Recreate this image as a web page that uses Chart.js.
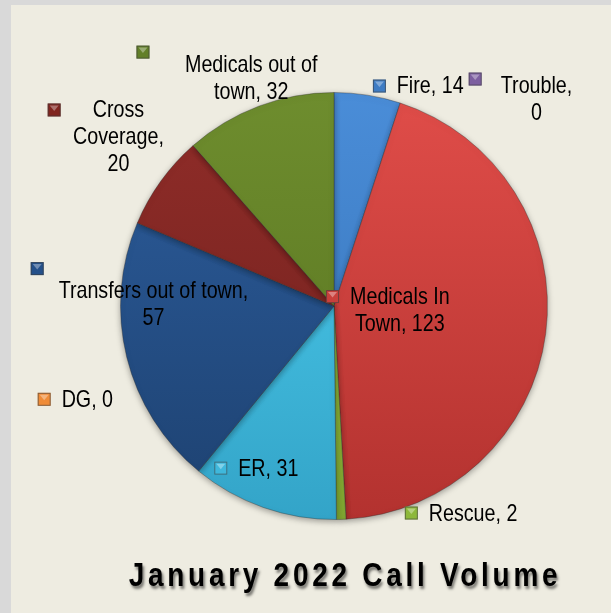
<!DOCTYPE html>
<html>
<head>
<meta charset="utf-8">
<script src="https://cdn.jsdelivr.net/npm/chart.js@4/dist/chart.umd.min.js"></script>
<style>
  html, body { margin: 0; padding: 0; background: #d9d9d9; width: 611px; height: 613px; overflow: hidden; }
  #panel { position: absolute; left: 11px; top: 5px; width: 600px; height: 608px; background: #eeece1; }
  #c { position: absolute; left: 0; top: 0; }
  #title {
    position: absolute; left: 45px; width: 600px; top: 555px; line-height: 39px;
    text-align: center; white-space: nowrap;
    font: bold 34px 'Liberation Sans', Arial, sans-serif; letter-spacing: 4.6px; color: #000;
    text-shadow: 2px 3px 3px rgba(0,0,0,0.5);
    transform: scaleX(0.82); transform-origin: center;
  }
</style>
</head>
<body>
<div id="panel"></div>
<canvas id="c" width="611" height="613"></canvas>
<div id="title">January 2022 Call Volume</div>
<script>
// dati
const categories = ['Fire', 'Trouble', 'Medicals In Town', 'Rescue', 'ER', 'DG',
    'Transfers out of town', 'Cross Coverage', 'Medicals out of town'];
const callCounts = [14, 0, 123, 2, 31, 0, 57, 20, 32];

// colori (chiaro in alto, scuro in basso)
const topColors = ['#4a8dd8', '#8d70b0', '#e04d49', '#9cc744', '#4fd0f1', '#f9a050', '#2d5e9e', '#912d29', '#6e8d2e'];
const bottomColors = ['#3470b4', '#6e5290', '#b3322f', '#7fa531', '#33a4c8', '#e0822f', '#1d4170', '#6d1f1c', '#57721f'];
const keyColors = ['#3e7cc4', '#7d5fa0', '#c8403c', '#8db83a', '#3fb8dc', '#ef8c38', '#24508a', '#80251f', '#627f28'];

// posizione etichette rispetto al centro della torta (px per raggio 214)
const labelLayout = [
    { key: [39, -227], text: [63, -220], align: 'left', wrap: 300 },
    { key: [135, -234], text: [203, -220], align: 'center', wrap: 80 },
    { key: [-8, -16], text: [66, -9], align: 'center', wrap: 110 },
    { key: [71, 201], text: [95, 209], align: 'left', wrap: 300 },
    { key: [-120, 156], text: [-96, 164], align: 'left', wrap: 300 },
    { key: [-297, 87], text: [-273, 95], align: 'left', wrap: 300 },
    { key: [-304, -44], text: [-181, -15], align: 'center', wrap: 200 },
    { key: [-287, -203], text: [-216, -196], align: 'center', wrap: 95 },
    { key: [-198, -261], text: [-83, -241], align: 'center', wrap: 140 }
];

function sliceGradient(ctx) {
    const area = ctx.chart.chartArea;
    const i = ctx.dataIndex;
    if (!area) return keyColors[i];
    const g = ctx.chart.ctx.createLinearGradient(0, area.top, 0, area.bottom);
    g.addColorStop(0, topColors[i]);
    g.addColorStop(1, bottomColors[i]);
    return g;
}

// font stretto se disponibile
let narrowScale = 1;
let labelFamily = "'Liberation Sans Narrow', 'Arial Narrow'";
(function checkNarrow() {
    const t = document.createElement('canvas').getContext('2d');
    t.font = "24px 'Liberation Sans Narrow', monospace";
    const a = t.measureText('Medicals out of').width;
    t.font = '24px monospace';
    const b = t.measureText('Medicals out of').width;
    if (Math.abs(a - b) < 0.5) { labelFamily = "'Liberation Sans'"; narrowScale = 0.82; }
})();

function wrapText(ctx, text, maxW) {
    const words = text.split(' ');
    const lines = [];
    let cur = '';
    words.forEach(w => {
        const test = cur ? cur + ' ' + w : w;
        if (ctx.measureText(test).width * narrowScale > maxW && cur) {
            lines.push(cur);
            cur = w;
        } else cur = test;
    });
    if (cur) lines.push(cur);
    return lines;
}

function drawKey(ctx, x, y, s, color) {
    ctx.save();
    ctx.fillStyle = color;
    ctx.fillRect(x, y, s, s);
    ctx.fillStyle = 'rgba(255,255,255,0.35)';
    ctx.beginPath();
    ctx.moveTo(x + 2, y + 2);
    ctx.lineTo(x + s - 2, y + 2);
    ctx.lineTo(x + s / 2, y + s / 2 + 1);
    ctx.closePath();
    ctx.fill();
    ctx.strokeStyle = 'rgba(60,60,60,0.6)';
    ctx.lineWidth = 1;
    ctx.strokeRect(x + 0.5, y + 0.5, s - 1, s - 1);
    ctx.restore();
}

const labelPlugin = {
    id: 'excelLabels',
    afterDatasetsDraw(chart) {
        const ctx = chart.ctx;
        const arc = chart.getDatasetMeta(0).data[0];
        const cx = arc.x, cy = arc.y;
        const k = arc.outerRadius / 214;
        ctx.save();
        ctx.font = '24px ' + labelFamily + ', sans-serif';
        ctx.fillStyle = '#000';
        ctx.textBaseline = 'middle';
        categories.forEach((cat, i) => {
            const L = labelLayout[i];
            drawKey(ctx, cx + L.key[0] * k, cy + L.key[1] * k, 13, keyColors[i]);
            const lines = wrapText(ctx, cat + ', ' + callCounts[i], L.wrap);
            lines.forEach((line, j) => {
                const w = ctx.measureText(line).width * narrowScale;
                let x = cx + L.text[0] * k;
                if (L.align === 'center') x -= w / 2;
                const y = cy + L.text[1] * k + j * 27;
                ctx.save();
                ctx.translate(x, y);
                ctx.scale(narrowScale, 1);
                ctx.textAlign = 'left';
                ctx.fillText(line, 0, 0);
                ctx.restore();
            });
        });
        ctx.restore();
    }
};

const shadowPlugin = {
    id: 'pieShadow',
    beforeDatasetsDraw(chart) {
        chart.ctx.save();
        chart.ctx.shadowColor = 'rgba(0,0,0,0.35)';
        chart.ctx.shadowBlur = 6;
        chart.ctx.shadowOffsetY = 2;
    },
    afterDatasetsDraw(chart) {
        chart.ctx.restore();
    }
};

new Chart(document.getElementById('c'), {
    type: 'pie',
    data: {
        labels: categories,
        datasets: [{
            data: callCounts,
            backgroundColor: sliceGradient,
            borderColor: 'rgba(40,40,40,0.35)',
            borderWidth: 1
        }]
    },
    options: {
        responsive: false,
        animation: false,
        layout: { padding: { left: 120, right: 63, top: 92, bottom: 93 } },
        plugins: {
            legend: { display: false },
            tooltip: { enabled: false }
        }
    },
    plugins: [shadowPlugin, labelPlugin]
});
</script>
</body>
</html>
